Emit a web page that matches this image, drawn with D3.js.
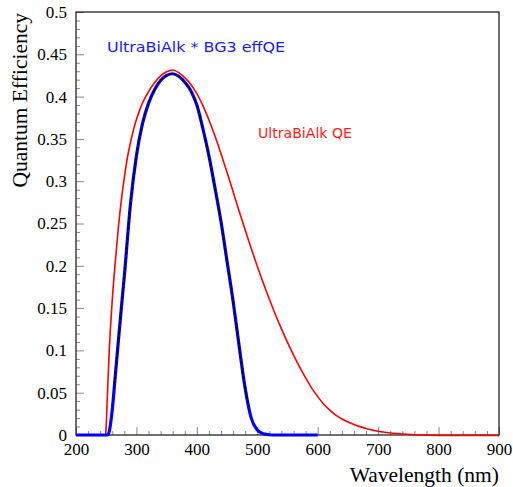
<!DOCTYPE html>
<html>
<head>
<meta charset="utf-8">
<script src="https://cdn.jsdelivr.net/npm/d3@7"></script>
<style>
html,body{margin:0;padding:0;background:#fff;}
svg{display:block;}
</style>
</head>
<body>
<svg id="chart" width="513" height="487"></svg>
<script>
// ---- data ----
const qeWavelength = [249,250,252,255,260,265,270,275,280,285,290,295,300,305,310,320,330,340,350,360,370,380,390,400,410,420,430,440,450,460,470,480,490,500,510,520,530,540,550,560,570,580,590,600,610,620,630,640,650,660,670,680,690,700,720,740,760,780,800,820,850,900];
const qeValues     = [0,0.012,0.048,0.10,0.16,0.205,0.245,0.278,0.305,0.328,0.346,0.361,0.3735,0.384,0.393,0.4065,0.417,0.425,0.430,0.432,0.429,0.423,0.415,0.404,0.390,0.373,0.354,0.333,0.311,0.288,0.265,0.243,0.221,0.200,0.180,0.161,0.143,0.126,0.110,0.095,0.081,0.068,0.056,0.046,0.037,0.030,0.024,0.0195,0.016,0.013,0.0105,0.0083,0.0065,0.005,0.003,0.0017,0.0009,0.0004,0.0001,0,0,0];

const effWavelength = [200,220,240,252,255,260,265,270,275,280,290,300,310,320,330,340,350,360,370,380,390,400,410,420,430,440,450,460,470,480,490,500,510,520,530,550,600];
const effValues     = [0,0,0,0,0.004,0.03,0.07,0.11,0.15,0.188,0.272,0.33,0.368,0.392,0.408,0.419,0.425,0.427,0.424,0.417,0.407,0.390,0.362,0.330,0.292,0.252,0.205,0.158,0.105,0.055,0.020,0.006,0.0015,0.0003,0,0,0];

const fitRange = [263, 486];

const xMajorTicks = [200,300,400,500,600,700,800,900];
const yMajorTicks = [0,0.05,0.1,0.15,0.2,0.25,0.3,0.35,0.4,0.45,0.5];
const yTickLabels = ["0","0.05","0.1","0.15","0.2","0.25","0.3","0.35","0.4","0.45","0.5"];

const xTitle = "Wavelength (nm)";
const yTitle = "Quantum Efficiency";
const effLabel = "UltraBiAlk * BG3 effQE";
const qeLabel = "UltraBiAlk QE";

// ---- layout ----
const L = 76, T = 12, R = 499, B = 435;
const svg = d3.select("#chart");
const x = d3.scaleLinear().domain([200, 900]).range([L, R]);
const y = d3.scaleLinear().domain([0, 0.5]).range([B, T]);

const serif = "'Liberation Serif','Times New Roman',serif";

// minor ticks
const xMinor = d3.range(200, 901, 20).filter(v => v % 100 !== 0);
const yMinor = d3.range(0, 51, 1).map(v => v / 100).filter((v, i) => i % 5 !== 0);

const gxMinor = svg.append("g").attr("transform", `translate(0,${B})`)
  .call(d3.axisBottom(x).tickValues(xMinor).tickSize(-4).tickFormat(""));
const gyMinor = svg.append("g").attr("transform", `translate(${L},0)`)
  .call(d3.axisLeft(y).tickValues(yMinor).tickSize(-4).tickFormat(""));

const gx = svg.append("g").attr("transform", `translate(0,${B})`)
  .call(d3.axisBottom(x).tickValues(xMajorTicks).tickSize(-8).tickPadding(8).tickFormat(d3.format("d")));
const gy = svg.append("g").attr("transform", `translate(${L},0)`)
  .call(d3.axisLeft(y).tickValues(yMajorTicks).tickSize(-8).tickPadding(9)
    .tickFormat((d, i) => yTickLabels[i]));

[gxMinor, gyMinor, gx, gy].forEach(g => {
  g.select(".domain").remove();
  g.selectAll(".tick line").attr("stroke", "#888").attr("stroke-width", 1);
});
[gx, gy].forEach(g => {
  g.selectAll(".tick text").attr("font-family", serif).attr("font-size", 17).attr("fill", "#000");
});
gy.selectAll(".tick text").filter(d => d === 0).attr("dy", "0.3em");

// frame
svg.append("rect").attr("x", L).attr("y", T).attr("width", R - L).attr("height", B - T)
  .attr("fill", "none").attr("stroke", "#222").attr("stroke-width", 1.3);

// curves
const line = d3.line().x(d => x(d[0])).y(d => y(d[1])).curve(d3.curveMonotoneX);
const qeData = qeWavelength.map((w, i) => [w, qeValues[i]]);
const effData = effWavelength.map((w, i) => [w, effValues[i]]);

svg.append("path").datum(qeData).attr("d", line)
  .attr("fill", "none").attr("stroke", "#ff0000").attr("stroke-width", 1.6)
  .attr("transform", "translate(0,0.5)");
svg.append("path").datum(effData).attr("d", line)
  .attr("fill", "none").attr("stroke", "#0000ff").attr("stroke-width", 3.2).attr("stroke-linejoin", "round");

// black dashed fit overlay
const fitFn = d3.scaleLinear().domain(effWavelength).range(effValues);
const fitData = effData.filter(d => d[0] >= fitRange[0] && d[0] <= fitRange[1]);
fitData.unshift([fitRange[0], fitFn(fitRange[0])]);
fitData.push([fitRange[1], fitFn(fitRange[1])]);
fitData.sort((a, b) => a[0] - b[0]);
svg.append("path").datum(fitData).attr("d", line)
  .attr("fill", "none").attr("stroke", "#000").attr("stroke-width", 1.6)
  .attr("stroke-dasharray", "3,2");

// annotations
svg.append("text").attr("x", 107).attr("y", 52).text(effLabel)
  .attr("font-family", "'DejaVu Sans',sans-serif").attr("font-size", 14)
  .attr("fill", "#1a1aff").attr("textLength", 178).attr("lengthAdjust", "spacingAndGlyphs");
svg.append("text").attr("x", 258).attr("y", 138).text(qeLabel)
  .attr("font-family", "'DejaVu Sans',sans-serif").attr("font-size", 14)
  .attr("fill", "#ff1a1a").attr("textLength", 94).attr("lengthAdjust", "spacingAndGlyphs");

// axis titles
svg.append("text").attr("x", R).attr("y", 482).attr("text-anchor", "end")
  .attr("font-family", serif).attr("font-size", 21.5).text(xTitle);
svg.append("text").attr("transform", `translate(27,${T + 1}) rotate(-90)`).attr("text-anchor", "end")
  .attr("font-family", serif).attr("font-size", 21.5).text(yTitle);
</script>
</body>
</html>
